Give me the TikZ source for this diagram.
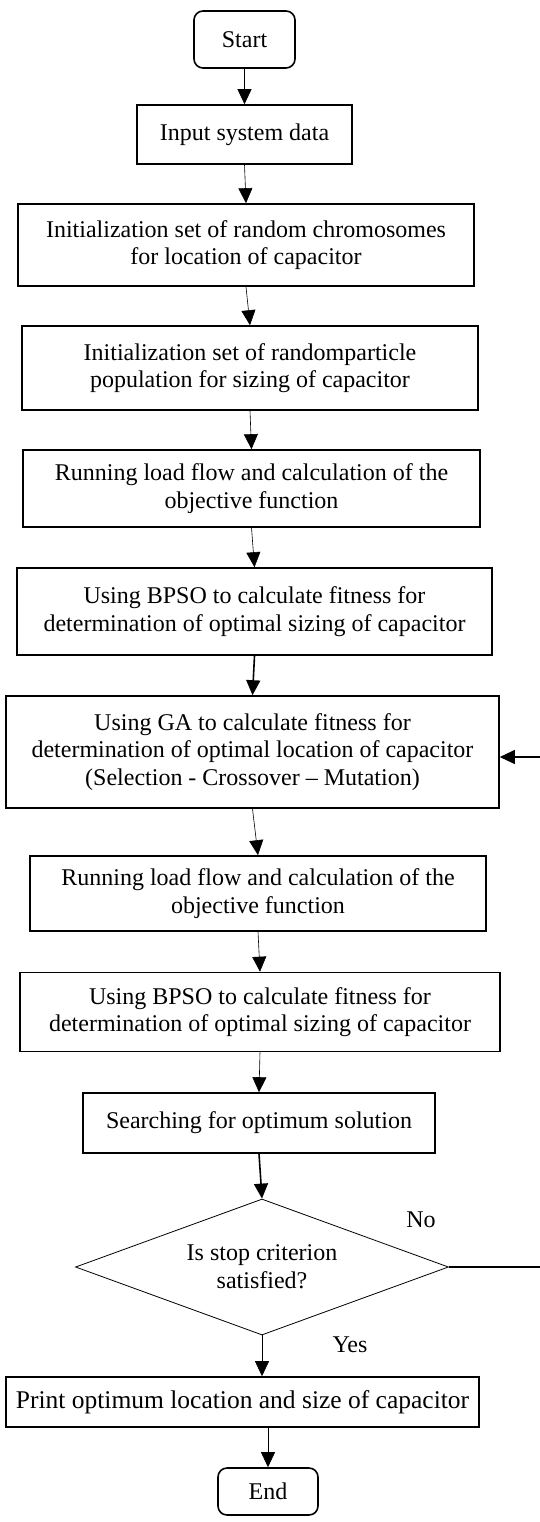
\documentclass[tikz,border=0pt]{standalone}
\usepackage{fontspec}
\setmainfont{Liberation Serif}
\usetikzlibrary{shapes.geometric,arrows.meta}
\begin{document}
\begin{tikzpicture}[x=1pt,y=-1pt,
  box/.style={draw,line width=1.6pt,align=center,inner sep=0pt,font=\fontsize{24}{27.6}\selectfont},
  term/.style={box,rounded corners=9pt},
  decision/.style={draw,diamond,aspect=2.74,line width=0.8pt,align=center,inner sep=0pt,font=\fontsize{24}{27.6}\selectfont},
  lbl/.style={font=\fontsize{24}{27.6}\selectfont},
  arr/.style={-{Triangle[width=14pt,length=15pt]},line width=0.6pt},
  arrthick/.style={arr,line width=1.6pt}]
\useasboundingbox (0,0) rectangle (539,1522);
% boxes
\node[term,minimum width=101pt,minimum height=57pt] (start) at (244.5,39.5) {Start};
\node[box,minimum width=215pt,minimum height=59pt] (input) at (244.5,134.5) {Input system data};
\node[box,minimum width=456pt,minimum height=82pt] (initloc) at (246,245) {Initialization set of random chromosomes\\for location of capacitor};
\node[box,minimum width=456pt,minimum height=84pt] (initsize) at (250,368) {Initialization set of randomparticle\\population for sizing of capacitor};
\node[box,minimum width=457pt,minimum height=77pt] (flowa) at (251.5,488.5) {Running load flow and calculation of the\\objective function};
\node[box,minimum width=475pt,minimum height=87pt] (bpsoa) at (254.5,611.5) {Using BPSO to calculate fitness for\\determination of optimal sizing of capacitor};
\node[box,minimum width=493pt,minimum height=112pt] (ga) at (252.5,752) {Using GA to calculate fitness for\\determination of optimal location of capacitor\\(Selection - Crossover -- Mutation)};
\node[box,minimum width=456pt,minimum height=75pt] (flowb) at (258,893.5) {Running load flow and calculation of the\\objective function};
\node[box,minimum width=480pt,minimum height=79pt] (bpsob) at (260,1012) {Using BPSO to calculate fitness for\\determination of optimal sizing of capacitor};
\node[box,minimum width=352pt,minimum height=60pt] (search) at (259,1123) {Searching for optimum solution};
\node[decision,minimum width=373pt,minimum height=136pt] (stop) at (262,1267) {Is stop criterion\\satisfied?};
\node[box,minimum width=473pt,minimum height=50pt,font=\fontsize{25.5}{29}\selectfont] (print) at (242.5,1402) {Print optimum location and size of capacitor};
\node[term,minimum width=100pt,minimum height=47pt] (end) at (268,1491.5) {End};
\node[lbl] (lblno) at (421,1220) {No};
\node[lbl] (lblyes) at (350,1345) {Yes};
% connectors
\draw[arr] (start.south) -- (input.north);
\draw[arr] (input.south) -- (initloc.north);
\draw[arr] (initloc.south) -- (initsize.north);
\draw[arr] (initsize.south) -- (flowa.north);
\draw[arr] (flowa.south) -- (bpsoa.north);
\draw[arrthick] (bpsoa.south) -- (ga.north);
\draw[arr] (ga.south) -- (flowb.north);
\draw[arr] (flowb.south) -- (bpsob.north);
\draw[arr] (bpsob.south) -- (search.north);
\draw[arrthick] (search.south) -- (stop.north);
\draw[arr] (stop.south) -- (stop.south |- print.north);
\draw[arr] (end.north |- print.south) -- (end.north);
% loop back (No)
\coordinate (back) at (541,757);
\draw[line width=1.2pt] (stop.east) -- (stop.east -| back) -- (back);
\draw[-{Triangle[width=14pt,length=15pt]},line width=1.2pt] (back) -- (back -| ga.east);
\end{tikzpicture}
\end{document}
